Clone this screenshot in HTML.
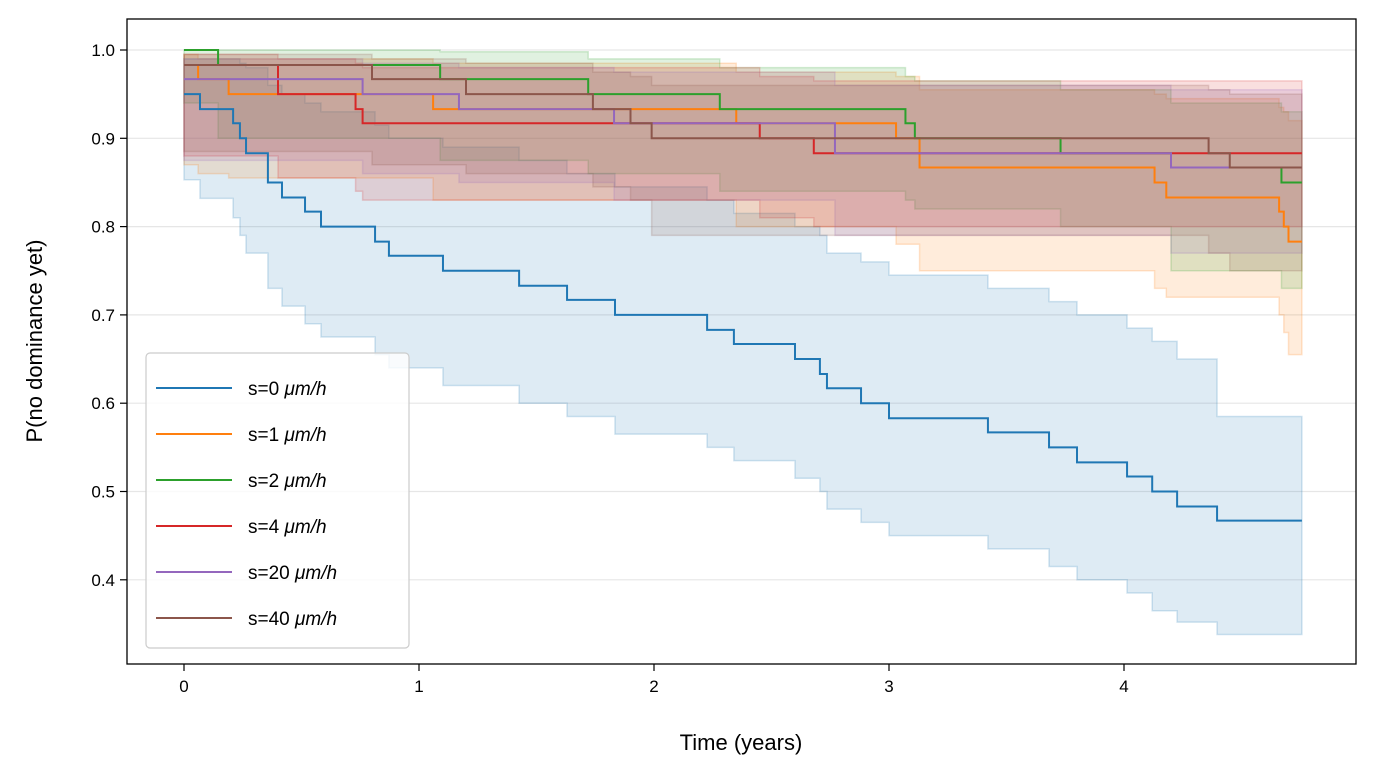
<!DOCTYPE html>
<html><head><meta charset="utf-8"><style>
body{margin:0;background:#fff;}
svg{display:block;font-family:"Liberation Sans","DejaVu Sans",sans-serif;}
</style></head><body>
<svg id="chart" width="1377" height="777" viewBox="0 0 1377 777">
<g id="grid"></g>
<g id="bands"></g>
<g id="lines"></g>
<rect x="127" y="19" width="1229" height="645" fill="none" stroke="#000" stroke-width="1.3"/>
<g id="axes"></g>
<text x="741" y="750" font-size="22" text-anchor="middle">Time (years)</text>
<text x="42" y="341" font-size="22" text-anchor="middle" transform="rotate(-90 42 341)">P(no dominance yet)</text>
<g id="legend"></g>
</svg>
<script>
const xTicks=[0,1,2,3,4];
const yTicks=[0.4,0.5,0.6,0.7,0.8,0.9,1.0];
const seriesLabels=["s=0","s=1","s=2","s=4","s=20","s=40"];
const colors=["#1f77b4","#ff7f0e","#2ca02c","#d62728","#9467bd","#8c564b"];
const endTime=4.757;
const t0=[0,.068,.209,.238,.264,.357,.417,.515,.583,.813,.872,1.102,1.426,1.630,1.834,2.226,2.340,2.600,2.706,2.736,2.881,3.0,3.421,3.681,3.800,4.013,4.12,4.226,4.396];
const s0=[.95,.933,.917,.9,.883,.85,.833,.817,.8,.783,.767,.75,.733,.717,.7,.683,.667,.65,.633,.617,.6,.583,.567,.55,.533,.517,.5,.483,.467];
const lo0=[.853,.832,.81,.79,.77,.73,.71,.69,.675,.655,.64,.62,.60,.585,.565,.55,.535,.515,.50,.48,.465,.45,.435,.415,.40,.385,.365,.352,.338];
const hi0=[.99,.99,.99,.985,.98,.96,.95,.94,.93,.915,.90,.89,.875,.86,.845,.83,.815,.80,.79,.77,.76,.745,.73,.715,.70,.685,.67,.65,.585];
const t1=[0,.06,.19,1.06,2.35,3.03,3.13,4.13,4.18,4.66,4.68,4.70];
const s1=[.983,.967,.95,.933,.917,.9,.867,.85,.833,.817,.8,.783];
const lo1=[.87,.86,.855,.83,.80,.78,.75,.73,.72,.70,.68,.655];
const hi1=[.995,.99,.99,.985,.975,.97,.955,.95,.945,.935,.93,.92];
const t2=[0,.145,1.09,1.72,2.28,3.07,3.11,3.73,4.2,4.67];
const s2=[1,.983,.967,.95,.933,.917,.9,.883,.867,.85];
const lo2=[.94,.90,.875,.86,.84,.83,.82,.80,.75,.73];
const hi2=[1,1,.998,.99,.98,.97,.965,.955,.94,.93];
const t3=[0,.4,.73,.76,2.45,2.68];
const s3=[.983,.95,.933,.917,.9,.883];
const lo3=[.88,.855,.84,.83,.81,.80];
const hi3=[.995,.99,.985,.98,.97,.965];
const t4=[0,.76,1.17,1.83,2.77,4.2];
const s4=[.967,.95,.933,.917,.883,.867];
const lo4=[.875,.86,.85,.83,.79,.77];
const hi4=[.99,.985,.98,.975,.96,.955];
const t5=[0,.8,1.2,1.74,1.9,1.99,4.36,4.45];
const s5=[.983,.967,.95,.933,.917,.9,.883,.867];
const lo5=[.885,.87,.86,.845,.83,.79,.77,.75];
const hi5=[.995,.99,.985,.975,.97,.96,.955,.95];
const T=[t0,t1,t2,t3,t4,t5],S=[s0,s1,s2,s3,s4,s5],LO=[lo0,lo1,lo2,lo3,lo4,lo5],HI=[hi0,hi1,hi2,hi3,hi4,hi5];
const X=t=>184+235*t, Y=v=>50+(1-v)*883;
const NS="http://www.w3.org/2000/svg";
function mk(tag,attrs,parent){const e=document.createElementNS(NS,tag);for(const k in attrs)e.setAttribute(k,attrs[k]);parent.appendChild(e);return e;}
const grid=document.getElementById('grid'),axes=document.getElementById('axes');
yTicks.forEach(v=>{
 const g=mk('line',{x1:127,x2:1356,y1:Y(v),y2:Y(v),stroke:'#e6e6e6','stroke-width':1.2},grid);
 
 
 const tk=mk('line',{x1:120,x2:127,y1:Y(v),y2:Y(v),stroke:'#000','stroke-width':1.2},axes);
 
 
 const t=mk('text',{x:115,y:Y(v)+6,'font-size':17,'text-anchor':'end'},axes);t.textContent=v.toFixed(1);
 
 
});
xTicks.forEach(v=>{
 const tk=mk('line',{x1:X(v),x2:X(v),y1:664,y2:671,stroke:'#000','stroke-width':1.2},axes);
 
 
 const t=mk('text',{x:X(v),y:692,'font-size':17,'text-anchor':'middle'},axes);t.textContent=v;
 
 
});
function stepPts(ts,vs){const p=[];for(let i=0;i<ts.length;i++){const tn=i+1<ts.length?ts[i+1]:endTime;p.push([X(ts[i]),Y(vs[i])],[X(tn),Y(vs[i])]);}return p;}
const bands=document.getElementById('bands'),lines=document.getElementById('lines');
for(let k=0;k<6;k++){
 const up=stepPts(T[k],HI[k]),lw=stepPts(T[k],LO[k]).reverse();
 const b=mk('polygon',{points:up.concat(lw).map(p=>p.join(',')).join(' '),fill:colors[k],'fill-opacity':0.15,stroke:colors[k],'stroke-opacity':0.2,'stroke-width':1.5},bands);
 
 
}
for(let k=0;k<6;k++){
 const l=mk('polyline',{points:stepPts(T[k],S[k]).map(p=>p.join(',')).join(' '),fill:'none',stroke:colors[k],'stroke-width':2},lines);
 
 
}
const lg=document.getElementById('legend');
const box=mk('rect',{x:146,y:353,width:263,height:295,rx:4,fill:'#fff','fill-opacity':0.8,stroke:'#ccc','stroke-width':1.2},lg);


for(let k=0;k<6;k++){
 const yy=388+46*k;
 const g=mk('g',{},lg);
 
 
 mk('line',{x1:156,x2:232,y1:yy,y2:yy,stroke:colors[k],'stroke-width':2},g);
 const t=mk('text',{x:248,y:yy+7,'font-size':19},g);
 t.textContent=seriesLabels[k]+' ';
 const it=mk('tspan',{'font-style':'italic'},t);it.textContent='μm/h';
}
</script>
</body></html>
